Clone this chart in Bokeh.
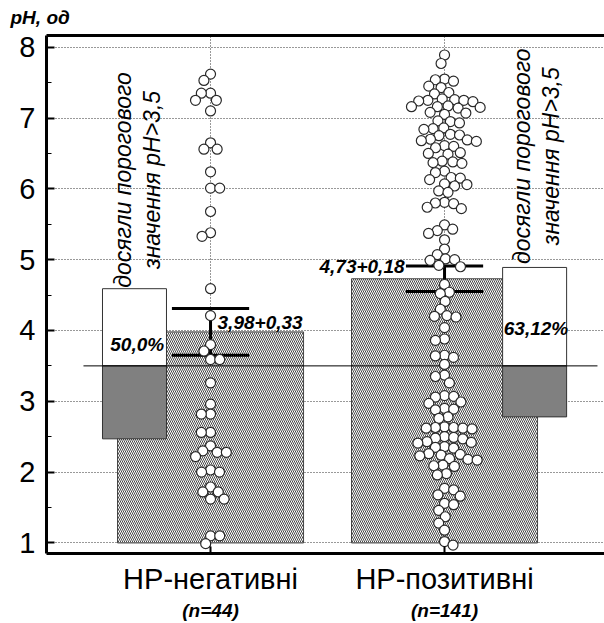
import numpy as np
from bokeh.plotting import figure
from bokeh.models import Range1d, LinearAxis, FixedTicker, Label, Title
from bokeh.embed import file_html
from bokeh.resources import INLINE

# ---------------- data ----------------
groups = ["HP-негативні", "HP-позитивні"]
group_n = ["(n=44)", "(n=141)"]
group_x = [1, 2]
means = [3.98, 4.73]
sems = [0.33, 0.18]
mean_labels = ["3,98+0,33", "4,73+0,18"]
bar_base = 1.0
threshold = 3.5
reached_top = [4.59, 4.89]
not_reached_bottom = [2.47, 2.78]
pct_labels = ["50,0%", "63,12%"]
threshold_label = "досягли порогового\nзначення pH>3,5"
y_ticks = [1, 2, 3, 4, 5, 6, 7, 8]
y_title = "pH, од"

ph_negative = [
    7.62, 7.53, 7.35, 7.35, 7.25, 7.25, 7.10, 6.65, 6.56, 6.56, 6.24,
    6.01, 6.01, 5.68, 5.38, 5.33, 4.59, 4.21, 3.80, 3.71, 3.59, 3.59,
    3.26, 2.96, 2.82, 2.82, 2.56, 2.56, 2.37, 2.30, 2.28, 2.28, 2.22,
    2.03, 2.00, 2.00, 1.79, 1.72, 1.72, 1.62, 1.62, 1.10, 1.10, 0.99,
]

ph_positive = [
    7.89, 7.77,
    7.55, 7.54, 7.52,
    7.45, 7.43,
    7.36, 7.34,
    7.27, 7.26, 7.25, 7.25, 7.24, 7.23,
    7.17, 7.16, 7.16, 7.15, 7.14,
    7.08, 7.07, 7.05,
    6.96, 6.95, 6.93,
    6.86, 6.85, 6.84,
    6.77, 6.76, 6.75,
    6.70, 6.69, 6.68, 6.67,
    6.61, 6.60, 6.58,
    6.51, 6.50, 6.49,
    6.39, 6.38, 6.37, 6.36,
    6.25, 6.23,
    6.16, 6.15, 6.13,
    6.07, 6.06, 6.04,
    5.97, 5.95,
    5.81, 5.80, 5.79,
    5.74, 5.72,
    5.49,
    5.43, 5.41,
    5.37,
    5.28,
    5.15,
    5.07,
    5.01, 5.00, 4.99,
    4.92, 4.90,
    4.65,
    4.54, 4.52,
    4.41,
    4.30,
    4.21, 4.20, 4.19,
    4.04,
    3.88, 3.86,
    3.65, 3.64, 3.62,
    3.52,
    3.37, 3.35,
    3.26,
    3.08, 3.07, 3.06,
    2.99, 2.97,
    2.90, 2.89, 2.88,
    2.78, 2.76,
    2.64, 2.63, 2.63, 2.62, 2.62, 2.61,
    2.50, 2.49, 2.48, 2.47,
    2.43, 2.42, 2.41,
    2.36, 2.35, 2.34,
    2.26, 2.25, 2.24, 2.23,
    2.19, 2.18, 2.17,
    2.10, 2.09, 2.08,
    1.98, 1.96,
    1.77, 1.75,
    1.68, 1.66,
    1.56, 1.54,
    1.46,
    1.37,
    1.28,
    1.18,
    1.02,
    0.97,
]

# ---------------- layout ----------------
W, H = 604, 623
BL, BR, BT, BB = 46, 0, 35, 68
x0, x1 = 0.299, 0.299 + (W - BL - BR) / 234.0
y0, y1 = 0.851, 8.165
px_x = (W - BL - BR) / (x1 - x0)
px_y = (H - BT - BB) / (y1 - y0)

FONT = "Liberation Sans"
DOT = 10.0


def swarm(vals, d):
    """Deterministic beeswarm offsets in pixels."""
    order = sorted(range(len(vals)), key=lambda i: -vals[i])
    placed = []
    offs = [0.0] * len(vals)
    for k, i in enumerate(order):
        y = vals[i] * px_y
        cands = [0.0]
        for (px, py) in placed:
            dy = abs(py - y)
            if dy < d:
                dx = (d * d - dy * dy) ** 0.5
                cands += [px + dx, px - dx]
        sgn = 1 if k % 2 else -1
        cands.sort(key=lambda c: (round(abs(c), 4), sgn * c))
        for c in cands:
            if all((c - px) ** 2 + (y - py) ** 2 >= d * d - 1e-6 for px, py in placed):
                offs[i] = c
                placed.append((c, y))
                break
    return offs


p = figure(width=W, height=H, output_backend="svg", toolbar_location=None,
           x_range=Range1d(x0, x1), y_range=Range1d(y0, y1),
           x_axis_location=None, y_axis_location=None)
p.min_border = 0
p.min_border_left = BL
p.min_border_right = BR
p.min_border_top = BT
p.min_border_bottom = BB
p.outline_line_color = None
p.background_fill_color = "white"
p.border_fill_color = "white"

# title (y-axis caption at top-left)
p.title = Title(text=y_title, align="left", offset=-36, text_font=FONT,
                text_font_size="19px", text_font_style="bold italic",
                text_color="black", standoff=0)

# axes
minor = [t + 0.5 for t in y_ticks[:-1]]
yax = LinearAxis(ticker=FixedTicker(ticks=y_ticks, minor_ticks=minor))
yax.bounds = (y0, y1)
yax.axis_line_width = 3
yax.axis_line_color = "black"
yax.major_tick_in = 8
yax.major_tick_out = 0
yax.major_tick_line_width = 2
yax.minor_tick_in = 5
yax.minor_tick_out = 0
yax.minor_tick_line_width = 1
yax.major_label_text_font = FONT
yax.major_label_text_font_size = "29px"
yax.major_label_text_color = "black"
yax.major_label_standoff = 11
p.add_layout(yax, "left")

xax = LinearAxis(ticker=FixedTicker(ticks=group_x, minor_ticks=[]))
xax.bounds = (x0, x1)
xax.major_label_overrides = {group_x[0]: groups[0], group_x[1]: groups[1]}
xax.axis_line_width = 3
xax.axis_line_color = "black"
xax.major_tick_in = 7
xax.major_tick_out = 0
xax.major_tick_line_width = 2
xax.minor_tick_line_color = None
xax.major_label_text_font = FONT
xax.major_label_text_font_size = "29px"
xax.major_label_text_color = "black"
xax.major_label_standoff = 9
p.add_layout(xax, "below")

nax = LinearAxis(ticker=FixedTicker(ticks=group_x, minor_ticks=[]))
nax.major_label_overrides = {group_x[0]: group_n[0], group_x[1]: group_n[1]}
nax.axis_line_color = None
nax.major_tick_line_color = None
nax.minor_tick_line_color = None
nax.major_tick_in = 0
nax.major_tick_out = 0
nax.major_label_text_font = FONT
nax.major_label_text_font_size = "19px"
nax.major_label_text_font_style = "bold italic"
nax.major_label_text_color = "black"
nax.major_label_standoff = 2
p.add_layout(nax, "below")

# top frame line: an ordinary axis above with blank labels
tax = LinearAxis(ticker=FixedTicker(ticks=group_x, minor_ticks=[]))
tax.bounds = (x0, x1)
tax.major_label_overrides = {group_x[0]: " ", group_x[1]: " "}
tax.axis_line_width = 3
tax.axis_line_color = "black"
tax.major_tick_in = 0
tax.major_tick_out = 0
tax.major_tick_line_color = None
tax.minor_tick_line_color = None
tax.major_label_standoff = 0
tax.major_label_text_font = FONT
tax.major_label_text_font_size = "4px"
tax.major_label_text_color = "white"
p.add_layout(tax, "above")

# grid
p.ygrid.ticker = FixedTicker(ticks=y_ticks)
p.xgrid.ticker = FixedTicker(ticks=group_x)
for g in (p.xgrid, p.ygrid):
    g.grid_line_color = "#333333"
    g.grid_line_dash = "1 2"
    g.grid_line_width = 1

# hatched mean bars
p.vbar(x=group_x, top=means, bottom=bar_base, width=0.795,
       fill_color="white", line_color="#444444", line_width=1,
       hatch_pattern="\\", hatch_color="#333333", hatch_scale=4, hatch_weight=0.9)

# threshold bars
tb_x = [group_x[0] - 0.325, group_x[1] + 0.385]
tb_w = 0.2735
p.vbar(x=tb_x, top=reached_top, bottom=threshold, width=tb_w,
       fill_color="white", line_color="#333333", line_width=1)
p.vbar(x=tb_x, top=threshold, bottom=not_reached_bottom, width=tb_w,
       fill_color="#808080", line_color="#333333", line_width=1)

# threshold line
p.segment(x0=[0.457], y0=[threshold], x1=[x1 - 0.03], y1=[threshold],
          line_color="black", line_width=1)

# error bars (mean +/- sem)
lo = [m - s for m, s in zip(means, sems)]
hi = [m + s for m, s in zip(means, sems)]
cap = 0.165
p.segment(x0=group_x, y0=lo, x1=group_x, y1=hi, line_color="black", line_width=3)
p.segment(x0=[g - cap for g in group_x], y0=hi, x1=[g + cap for g in group_x], y1=hi,
          line_color="black", line_width=3)
p.segment(x0=[g - cap for g in group_x], y0=lo, x1=[g + cap for g in group_x], y1=lo,
          line_color="black", line_width=3)

# dots (beeswarm)
for gx, vals in zip(group_x, [ph_negative, ph_positive]):
    offs = swarm(vals, DOT * 0.92)
    xs = [gx + o / px_x for o in offs]
    p.scatter(xs, vals, marker="circle", size=DOT, fill_color="white",
              line_color="#2a2a2a", line_width=1.2)

# text annotations
def lab(x, y, text, align, size="19px", style="bold italic", **kw):
    p.add_layout(Label(x=x, y=y, text=text, text_align=align, text_baseline="middle",
                       text_font=FONT, text_font_size=size, text_font_style=style,
                       text_color="black", **kw))

lab(group_x[0] + 0.03, 4.11, mean_labels[0], "left")
lab(group_x[1] - 0.171, 4.90, mean_labels[1], "right")
lab(tb_x[0] + tb_w / 2 - 0.01, 3.80, pct_labels[0], "right")
lab(tb_x[1] - tb_w / 2 + 0.005, 4.03, pct_labels[1], "left")

for lx, ly in ((0.688, 6.125), (2.393, 6.46)):
    p.add_layout(Label(x=lx, y=ly, text=threshold_label, angle=90, angle_units="deg",
                       text_align="center", text_baseline="middle", text_font=FONT,
                       text_font_size="23px", text_font_style="italic", text_color="black",
                       text_line_height=1.1))

open("out.html", "w").write(file_html(p, INLINE))
